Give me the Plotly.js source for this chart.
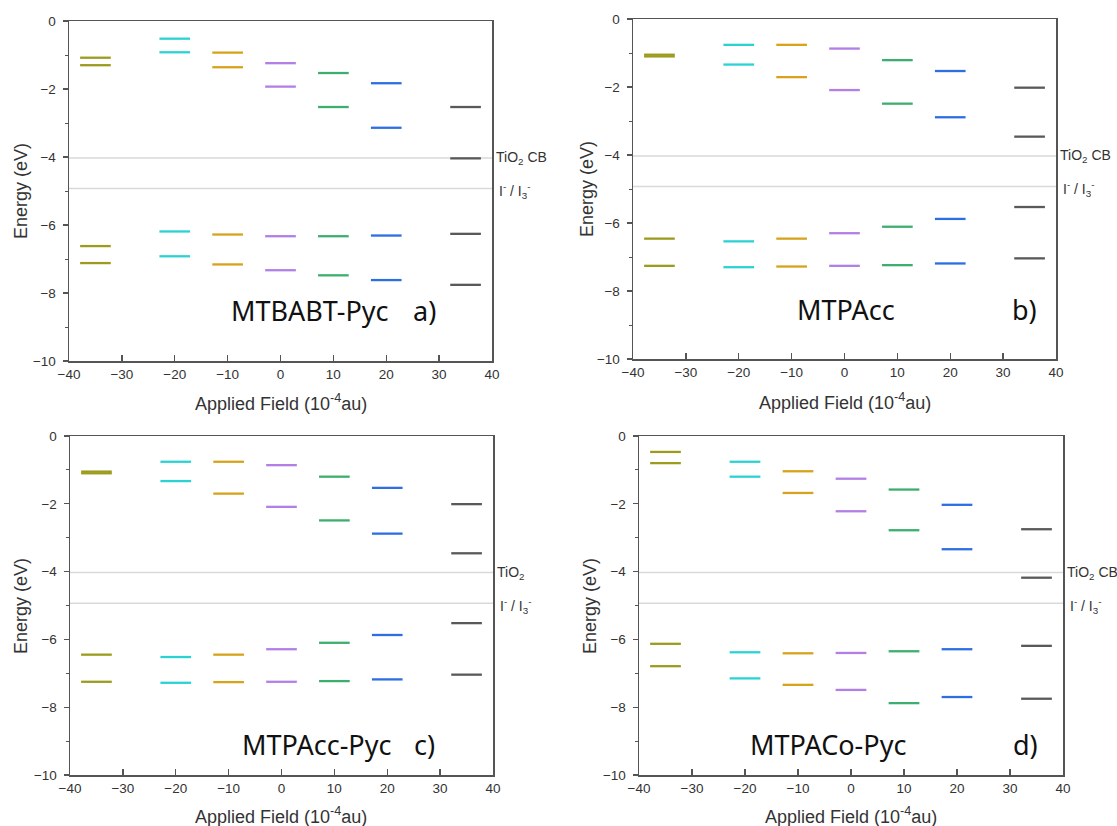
<!DOCTYPE html>
<html><head><meta charset="utf-8">
<script src="https://cdn.plot.ly/plotly-3.0.1.min.js"></script>
<style>html,body{margin:0;padding:0;background:#fff;overflow:hidden}</style>
</head><body><div id="chart" style="width:1117px;height:826px"></div>
<script>
// Applied field values (10^-4 au) at which the levels are drawn
const fieldValues = [-35, -20, -10, 0, 10, 20, 35];
const levelColors = ['#9d9b1e', '#2bd2d4', '#d7a31c', '#b27fe6', '#3dae6f', '#2d6fe2', '#595959'];
const panelNames = ['MTBABT-Pyc', 'MTPAcc', 'MTPAcc-Pyc', 'MTPACo-Pyc'];
const panelLetters = ['a)', 'b)', 'c)', 'd)'];
const refLevels = [-4.03, -4.93];
const xTickVals = [-40, -30, -20, -10, 0, 10, 20, 30, 40];
const yTickVals = [0, -2, -4, -6, -8, -10];

// Energy levels (eV) per field value: [LUMO+1, LUMO, HOMO, HOMO-1]
const energyA = [
  [-1.08, -1.30, -6.62, -7.12],
  [-0.52, -0.92, -6.19, -6.92],
  [-0.93, -1.36, -6.28, -7.16],
  [-1.24, -1.93, -6.33, -7.33],
  [-1.53, -2.53, -6.33, -7.48],
  [-1.83, -3.14, -6.31, -7.62],
  [-2.53, -4.04, -6.26, -7.76]];
const energyB = [
  [-1.05, -1.10, -6.46, -7.26],
  [-0.76, -1.34, -6.54, -7.30],
  [-0.76, -1.71, -6.46, -7.28],
  [-0.87, -2.09, -6.30, -7.26],
  [-1.21, -2.49, -6.11, -7.24],
  [-1.53, -2.89, -5.88, -7.19],
  [-2.02, -3.46, -5.53, -7.04]];
const energyC = [
  [-1.05, -1.10, -6.45, -7.25],
  [-0.76, -1.33, -6.52, -7.28],
  [-0.76, -1.70, -6.45, -7.26],
  [-0.86, -2.09, -6.29, -7.25],
  [-1.20, -2.49, -6.10, -7.23],
  [-1.53, -2.88, -5.87, -7.18],
  [-2.01, -3.46, -5.52, -7.04]];
const energyD = [
  [-0.47, -0.80, -6.13, -6.79],
  [-0.76, -1.20, -6.38, -7.15],
  [-1.04, -1.68, -6.41, -7.34],
  [-1.26, -2.22, -6.40, -7.49],
  [-1.58, -2.78, -6.35, -7.88],
  [-2.03, -3.34, -6.29, -7.70],
  [-2.75, -4.18, -6.19, -7.75]];
const panelEnergies = [energyA, energyB, energyC, energyD];
const refLabels = [
  ['TiO<sub>2</sub> CB', 'I<sup>-</sup> / I<sub>3</sub><sup>-</sup>'],
  ['TiO<sub>2</sub> CB', 'I<sup>-</sup> / I<sub>3</sub><sup>-</sup>'],
  ['TiO<sub>2</sub>', 'I<sup>-</sup> / I<sub>3</sub><sup>-</sup>'],
  ['TiO<sub>2</sub> CB', 'I<sup>-</sup> / I<sub>3</sub><sup>-</sup>']];

// ---- layout geometry (pixels in a 1117x826 page) ----
const W = 1117, H = 826;
const boxes = [ // [left, right, top, bottom]
  [69, 492, 21, 361],
  [633, 1056, 19, 359],
  [70, 493, 436, 775],
  [639, 1063, 436, 775]];
const nameX = [5.6, 0.3, 6.6, -4.25];
const letterX = [27.2, 34.1, 27.1, 32.9];
const labelY = [-8.5, -8.55, -9.1, -9.1];
const yTitlePos = [[21, 191], [587, 189], [21, 606], [590, 606]];
const xTitlePos = [[281, 402], [845, 401], [281, 815], [851, 815]];
const halfWidth = 2.9;

const tickFont = {family: 'Liberation Sans, Arial, sans-serif', size: 13.5, color: '#333'};
const titleFont = {family: 'Liberation Sans, Arial, sans-serif', size: 18, color: '#333'};

const traces = [];
const layout = {
  width: W, height: H,
  margin: {l: 0, r: 0, t: 0, b: 0},
  paper_bgcolor: '#fff', plot_bgcolor: '#fff',
  showlegend: false,
  shapes: [], annotations: []
};

panelEnergies.forEach((energies, p) => {
  const sfx = p === 0 ? '' : String(p + 1);
  const xa = 'x' + sfx, ya = 'y' + sfx;
  const [l, r, t, b] = boxes[p];
  layout['xaxis' + sfx] = {
    domain: [l / W, r / W], anchor: ya, range: [-40, 40],
    tickvals: xTickVals, ticks: 'inside', ticklen: 6, tickwidth: 1.3, tickcolor: '#555',
    showline: true, linecolor: '#555', linewidth: 1.5, mirror: true,
    showgrid: false, zeroline: false, tickfont: tickFont, fixedrange: true
  };
  layout['yaxis' + sfx] = {
    domain: [1 - b / H, 1 - t / H], anchor: xa, range: [-10, 0],
    tickvals: yTickVals, ticks: 'outside', ticklen: 5, tickwidth: 1.3, tickcolor: '#555',
    ticklabelstandoff: 4,
    minor: {dtick: 1, tick0: 0, ticks: 'outside', ticklen: 3, tickwidth: 1, tickcolor: '#555'},
    showline: true, linecolor: '#555', linewidth: 1.5, mirror: true,
    showgrid: false, zeroline: false, tickfont: tickFont, fixedrange: true
  };
  // reference lines
  refLevels.forEach((lv, k) => {
    layout.shapes.push({type: 'line', xref: xa + ' domain', yref: ya, x0: 0, x1: 1, y0: lv, y1: lv,
      line: {color: '#d9d9d9', width: 1.5}, layer: 'below'});
    layout.annotations.push({xref: xa + ' domain', yref: ya, x: 1, y: lv - (k === 1 ? 0.08 : 0),
      xanchor: 'left', yanchor: 'middle', xshift: k === 0 ? 2 : 5, showarrow: false,
      text: refLabels[p][k], font: {family: 'Liberation Sans, Arial, sans-serif', size: 14, color: '#333'}});
  });
  // energy level segments
  energies.forEach((levels, i) => {
    const c = fieldValues[i];
    const xs = [], ys = [];
    levels.forEach(v => { xs.push(c - halfWidth, c + halfWidth, null); ys.push(v, v, null); });
    traces.push({type: 'scatter', mode: 'lines', x: xs, y: ys, xaxis: xa, yaxis: ya,
      line: {color: levelColors[i], width: 2.3}, hoverinfo: 'skip', showlegend: false});
  });
  // panel labels
  layout.annotations.push({xref: xa, yref: ya, x: nameX[p], y: labelY[p], text: panelNames[p],
    showarrow: false, xanchor: 'center', yanchor: 'middle',
    font: {family: 'Noto Sans, sans-serif', size: 27, color: '#111'}});
  layout.annotations.push({xref: xa, yref: ya, x: letterX[p], y: labelY[p], text: panelLetters[p],
    showarrow: false, xanchor: 'center', yanchor: 'middle',
    font: {family: 'Noto Sans, sans-serif', size: 27, color: '#111'}});
  // axis titles
  layout.annotations.push({xref: 'paper', yref: 'paper', x: yTitlePos[p][0] / W, y: 1 - yTitlePos[p][1] / H,
    text: 'Energy (eV)', textangle: -90, showarrow: false, xanchor: 'center', yanchor: 'middle', font: titleFont});
  layout.annotations.push({xref: 'paper', yref: 'paper', x: xTitlePos[p][0] / W, y: 1 - xTitlePos[p][1] / H,
    text: 'Applied Field (10<sup>-4</sup>au)', showarrow: false, xanchor: 'center', yanchor: 'middle', font: titleFont});
});

Plotly.newPlot('chart', traces, layout, {displayModeBar: false, staticPlot: true});
</script>
</body></html>
